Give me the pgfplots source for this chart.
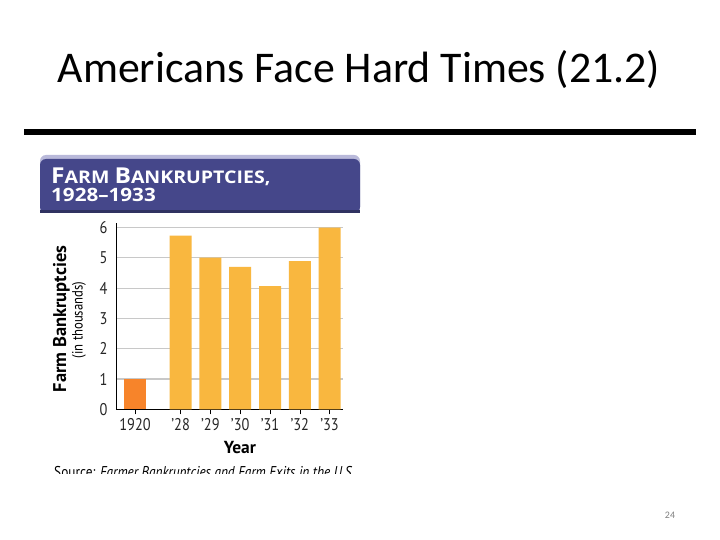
\documentclass[border=0pt]{standalone}
\usepackage{fontspec}
\setmainfont{Carlito}
\newfontfamily\chartfont[FakeStretch=0.85]{PT Sans}
\newfontfamily\labelfont{PT Sans}
\newfontfamily\headfont[FakeStretch=1.12]{Open Sans}
\usepackage{pgfplots}
\pgfplotsset{compat=1.18}

\definecolor{barorange}{HTML}{F7842A}
\definecolor{baryellow}{HTML}{F9B73F}
\definecolor{headblue}{HTML}{45478A}
\definecolor{headtop}{HTML}{B9B9DA}
\definecolor{gridgray}{HTML}{C8C8C8}

\begin{document}
\begin{tikzpicture}[x=1bp,y=1bp]
% slide
\path[use as bounding box,fill=white] (0,0) rectangle (720,-540);
\node[font=\fontsize{44}{48}\selectfont,anchor=base] at (359,-82.7) {Americans Face Hard Times (21.2)};
\fill[black] (24,-129) rectangle (696,-135);
\node[font=\fontsize{10}{12}\selectfont,text=gray,anchor=base] at (670,-518) {24};

% header band
\fill[headtop,rounded corners=6bp] (40,-213) |- (360,-155) -- (360,-213) -- cycle;
\fill[headblue,rounded corners=6bp] (40,-213) |- (360,-159) -- (360,-213) -- cycle;
\fill[headblue!70!black] (40,-210) rectangle (360,-213);
\node[anchor=base west,inner sep=0pt,text=white,font=\headfont\bfseries] at (51,-184)
  {\fontsize{22}{24}\selectfont F\fontsize{17.5}{18}\selectfont ARM \fontsize{22}{24}\selectfont B\fontsize{17.5}{18}\selectfont ANKRUPTCIES,};
\node[anchor=base west,inner sep=0pt,text=white,font=\headfont\bfseries\fontsize{18.5}{20}\selectfont] at (51,-202)
  {1928–1933};

% source line, cut at the bottom of the picture
\begin{scope}
\clip (40,-400) rectangle (360,-473);
\node[anchor=base west,inner sep=0pt,font=\chartfont\fontsize{15.7}{17}\selectfont] at (54,-477)
  {Source: \itshape Farmer Bankruptcies and Farm Exits in the U.S.};
\end{scope}

% y axis title, two lines
\node[rotate=90,inner sep=0pt,font=\labelfont\bfseries\fontsize{18.5}{20}\selectfont] at (61.5,-319) {Farm Bankruptcies};
\node[rotate=90,inner sep=0pt,font=\chartfont\fontsize{15}{16}\selectfont] at (79,-320) {(in thousands)};

\begin{axis}[
  at={(116bp,-409.3bp)}, anchor=south west,
  scale only axis, width=227bp, height=186bp,
  xmin=-0.64, xmax=6.98, ymin=0, ymax=6.14,
  axis x line=bottom, axis y line=left,
  axis line style={-, black, line width=0.8pt},
  xtick={0,1.53,2.53,3.53,4.53,5.53,6.53},
  xticklabels={1920,’28,’29,’30,’31,’32,’33},
  ytick={0,1,2,3,4,5,6},
  tick align=outside, major tick length=5bp,
  xtick style={black, line width=0.6pt},
  ytick style={draw=none},
  ymajorgrids, grid style={gridgray, line width=1.2pt},
  /pgf/number format/assume math mode=true,
  ticklabel style={font=\chartfont\fontsize{17}{18}\selectfont, text=black!85},
  xticklabel style={yshift=-1bp},
  xlabel={\bfseries Year},
  xlabel style={font=\labelfont\fontsize{17.5}{18}\selectfont, at={(axis description cs:0.546,0)}, anchor=base, yshift=-43.7bp},
  ybar, bar width=22bp, bar shift=0pt,
  every axis plot/.append style={draw=none},
  clip=false,
]
\addplot[fill=barorange] coordinates {(0,1.0)};
\addplot[fill=baryellow] coordinates {(1.53,5.73) (2.53,5.01) (3.53,4.70) (4.53,4.07) (5.53,4.89) (6.53,6.0)};
\end{axis}
\end{tikzpicture}
\end{document}
